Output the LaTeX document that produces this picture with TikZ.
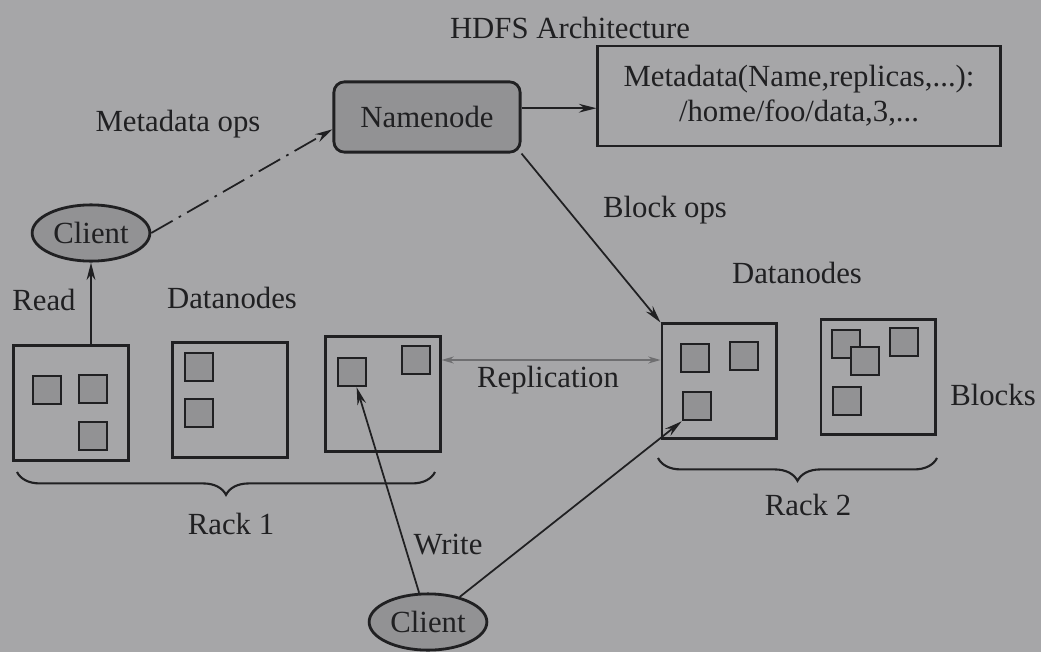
\documentclass[tikz,border=0pt]{standalone}
\usepackage{fontspec}
\setmainfont{Liberation Serif}
\usetikzlibrary{shapes.geometric,arrows.meta,decorations.pathreplacing}
\definecolor{paper}{RGB}{166,166,168}
\definecolor{ink}{RGB}{32,32,34}
\definecolor{shade}{RGB}{146,146,148}
\definecolor{faint}{RGB}{110,110,112}
\begin{document}
\begin{tikzpicture}[x=0.02cm,y=-0.02cm,
    every node/.style={text=ink,font=\fontsize{17.5}{20}\selectfont},
    rackbox/.style={draw=ink,line width=1.6pt,minimum width=65pt,minimum height=65pt},
    blk/.style={draw=ink,line width=1.4pt,fill=shade,minimum size=16pt,inner sep=0pt},
    client/.style={ellipse,draw=ink,line width=1.6pt,fill=shade,inner sep=0pt,minimum width=67pt,minimum height=32pt},
    arr/.style={draw=ink,line width=1pt,-{Stealth[length=10pt,width=5pt]}},
    brc/.style={draw=ink,line width=1.2pt,decorate,decoration={brace,mirror,amplitude=13pt}}]
    \fill[paper] (0,0) rectangle (1041,652);
    \useasboundingbox (0,0) rectangle (1041,652);

    \node (title) at (570,28) {HDFS Architecture};
    \node[draw=ink,line width=1.6pt,fill=shade,rounded corners=6pt,minimum width=106pt,minimum height=40pt] (nn) at (427,117) {Namenode};
    \node[draw=ink,line width=1.6pt,minimum width=229pt,minimum height=57pt,align=center] (meta) at (799,96) {Metadata(Name,replicas,...):\\/home/foo/data,3,...};
    \node[client] (cl1) at (91,233) {Client};
    \node[client] (cl2) at (428,622) {Client};

    \node (mops) at (178,124) {Metadata ops};
    \node (bops) at (665,210) {Block ops};
    \node (read) at (44,300) {Read};
    \node (dn1) at (232,298) {Datanodes};
    \node (dn2) at (797,273) {Datanodes};
    \node (repl) at (548,380) {Replication};
    \node (blocks) at (993,395) {Blocks};
    \node (write) at (448,545) {Write};
    \node (rack1) at (231,524) {Rack 1};
    \node (rack2) at (808,505) {Rack 2};

    \node[rackbox] (box1) at (71,403) {};
    \node[rackbox] (box2) at (230,400) {};
    \node[rackbox] (box3) at (383,394) {};
    \node[rackbox] (box4) at (719,381) {};
    \node[rackbox] (box5) at (878,377) {};

    \node[blk] (b1a) at (47,390) {};
    \node[blk] (b1b) at (93,389) {};
    \node[blk] (b1c) at (93,436) {};
    \node[blk] (b2a) at (199,367) {};
    \node[blk] (b2b) at (199,413) {};
    \node[blk] (b3a) at (352,372) {};
    \node[blk] (b3b) at (416,360) {};
    \node[blk] (b4a) at (695,358) {};
    \node[blk] (b4b) at (744,356) {};
    \node[blk] (b4c) at (697,406) {};
    \node[blk] (b5a) at (846,344) {};
    \node[blk] (b5b) at (865,361) {};
    \node[blk] (b5c) at (904,342) {};
    \node[blk] (b5d) at (847,401) {};

    \draw[brc] (17,472) -- (435,472);
    \draw[brc] (658,458) -- (937,458);

    \draw[arr] ([yshift=5pt]nn.east) -- ([yshift=5pt]nn.east -| meta.west);
    \draw[arr,dash pattern=on 14pt off 4pt on 1.5pt off 4pt] (cl1.east) -- ([yshift=-7pt]nn.west);
    \draw[arr] (box1.north -| cl1.south) -- (cl1.south);
    \draw[arr] (nn.south east) -- (box4.north west);
    \draw[faint,line width=0.8pt,{Stealth[length=7pt,width=4pt]}-{Stealth[length=7pt,width=4pt]}] (b3b -| box3.east) -- (b3b -| box4.west);
    \draw[arr] (cl2) -- (b3a);
    \draw[arr] (cl2) -- (b4c.south west);
\end{tikzpicture}
\end{document}
